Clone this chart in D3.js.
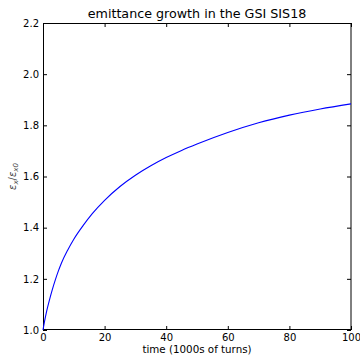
<!DOCTYPE html>
<html>
<head>
<meta charset="utf-8">
<script src="https://cdn.jsdelivr.net/npm/d3@7"></script>
<style>
  body { margin: 0; background: #fff; }
  svg { display: block; font-family: "DejaVu Sans", sans-serif; }
  .axis text { font-size: 10px; fill: #000; font-family: "DejaVu Sans", sans-serif; }
  .axis line { stroke: #000; }
  .axis path { display: none; }
</style>
</head>
<body>
<div id="chart"></div>
<script>
// time in 1000s of turns
const turns = [0, 0.5, 1, 1.5, 2, 3, 4, 5, 6, 8, 10, 13, 16, 20, 25, 30, 35, 40, 45, 50, 60, 70, 80, 90, 100]
// emittance ratio eps_x / eps_x0
const growth = [1.000, 1.034, 1.063, 1.089, 1.113, 1.157, 1.196, 1.231, 1.262, 1.312, 1.355, 1.408, 1.455, 1.507, 1.561, 1.605, 1.642, 1.674, 1.702, 1.727, 1.772, 1.810, 1.840, 1.864, 1.884]
const xTicks = [0, 20, 40, 60, 80, 100]
const yTicks = [1.0, 1.2, 1.4, 1.6, 1.8, 2.0, 2.2]

const width = 360, height = 355
const margin = { top: 23, right: 9, bottom: 25, left: 43 }

const svg = d3.select("#chart").append("svg")
  .attr("width", width)
  .attr("height", height)

const x = d3.scaleLinear()
  .domain([0, 100])
  .range([margin.left, width - margin.right])

const y = d3.scaleLinear()
  .domain([1.0, 2.2])
  .range([height - margin.bottom, margin.top])

// axes, ticks pointing inward like matplotlib
svg.append("g")
  .attr("class", "axis")
  .attr("transform", "translate(0," + (height - margin.bottom) + ")")
  .call(d3.axisBottom(x).tickValues(xTicks).tickFormat(d3.format("d")).tickSize(-4).tickPadding(4))

svg.append("g")
  .attr("class", "axis")
  .attr("transform", "translate(" + margin.left + ",0)")
  .call(d3.axisLeft(y).tickValues(yTicks).tickFormat(d3.format(".1f")).tickSize(-4).tickPadding(4))

svg.append("g")
  .attr("class", "axis")
  .attr("transform", "translate(0," + margin.top + ")")
  .call(d3.axisTop(x).tickValues(xTicks).tickFormat("").tickSize(-4))

svg.append("g")
  .attr("class", "axis")
  .attr("transform", "translate(" + (width - margin.right) + ",0)")
  .call(d3.axisRight(y).tickValues(yTicks).tickFormat("").tickSize(-4))

// frame
svg.append("rect")
  .attr("x", margin.left + 0.5)
  .attr("y", margin.top + 0.5)
  .attr("width", width - margin.right - margin.left - 0.5)
  .attr("height", height - margin.bottom - margin.top - 1)
  .attr("fill", "none")
  .attr("stroke", "#000")
  .attr("stroke-width", 1)

const pts = turns.map((t, i) => [t, growth[i]])

const line = d3.line()
  .x(d => x(d[0]))
  .y(d => y(d[1]))
  .curve(d3.curveMonotoneX)

svg.append("path")
  .datum(pts)
  .attr("d", line)
  .attr("fill", "none")
  .attr("stroke", "#0000ff")
  .attr("stroke-width", 1.1)

// title
svg.append("text")
  .attr("x", (margin.left + width - margin.right) / 2)
  .attr("y", 18)
  .attr("text-anchor", "middle")
  .style("font-size", "12.7px")
  .text("emittance growth in the GSI SIS18")

// x label
svg.append("text")
  .attr("x", (margin.left + width - margin.right) / 2)
  .attr("y", 353)
  .attr("text-anchor", "middle")
  .style("font-size", "10.3px")
  .text("time (1000s of turns)")

// y label
const yl = svg.append("text")
  .attr("transform", "translate(16," + ((margin.top + height - margin.bottom) / 2) + ") rotate(-90)")
  .attr("text-anchor", "middle")
  .style("font-size", "10px")
  .style("font-style", "italic")
  .attr("fill", "#444")
yl.append("tspan").text("ε")
yl.append("tspan").attr("dy", 2).style("font-size", "7px").text("x")
yl.append("tspan").attr("dy", -2).style("font-style", "normal").text("/")
yl.append("tspan").text("ε")
yl.append("tspan").attr("dy", 2).style("font-size", "7px").text("x0")
</script>
</body>
</html>
